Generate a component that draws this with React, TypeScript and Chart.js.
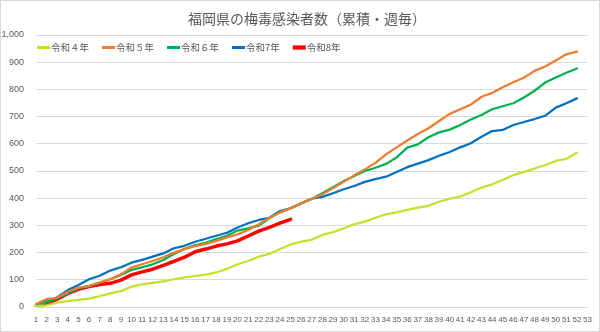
import React, { useEffect, useRef } from "react";
import { Chart, registerables } from "chart.js";

Chart.register(...registerables);

// Week numbers 1..53
const weeks: string[] = Array.from({ length: 53 }, (_, i) => String(i + 1));

// Cumulative syphilis cases in Fukuoka, by week
const r4: number[] = [3, 6, 16, 22, 26, 31, 40, 50, 58, 75, 83, 89, 94, 102, 109, 114, 119, 127, 140, 157, 169, 185, 195, 213, 230, 240, 247, 265, 275, 289, 304, 314, 328, 341, 348, 357, 365, 372, 387, 398, 406, 422, 439, 451, 467, 485, 497, 509, 522, 537, 545, 567];
const r5: number[] = [11, 29, 34, 56, 71, 77, 91, 102, 120, 145, 157, 169, 183, 200, 213, 224, 232, 243, 256, 267, 283, 304, 328, 348, 363, 381, 398, 414, 437, 460, 484, 506, 530, 561, 587, 612, 636, 657, 684, 710, 727, 744, 773, 787, 808, 826, 843, 868, 884, 906, 929, 939];
const r6: number[] = [4, 17, 32, 50, 69, 77, 89, 102, 118, 136, 146, 157, 173, 195, 213, 228, 236, 250, 262, 281, 289, 299, 326, 348, 363, 381, 398, 418, 440, 462, 482, 500, 512, 526, 550, 586, 598, 624, 642, 652, 669, 689, 706, 727, 738, 749, 770, 795, 825, 844, 861, 877];
const r7: number[] = [4, 20, 36, 62, 81, 102, 115, 134, 146, 163, 173, 185, 197, 216, 225, 240, 251, 262, 273, 292, 308, 320, 328, 353, 363, 381, 398, 405, 418, 433, 445, 460, 470, 479, 496, 514, 527, 540, 556, 570, 587, 602, 626, 647, 651, 669, 680, 691, 703, 733, 749, 767];
const r8: number[] = [1, 13, 29, 50, 65, 75, 83, 87, 99, 118, 129, 139, 153, 168, 183, 203, 213, 224, 232, 243, 261, 279, 293, 308, 322];

const chartTitle = "福岡県の梅毒感染者数（累積・週毎）";
const seriesLabels: string[] = ["令和４年", "令和５年", "令和６年", "令和7年", "令和8年"];
const seriesColors: string[] = ["#c8e02a", "#ed7d31", "#00b050", "#0070c0", "#ff0000"];
const seriesWidths: number[] = [2.25, 2.25, 2.25, 2.25, 3.5];

const FONT = '"Noto Sans CJK JP", "Noto Sans", sans-serif';
const NUM_FONT = '"Liberation Sans", sans-serif';
const TEXT = "#595959";

// Title and legend; the legend sits inside the plot area, one line sample + label per series
const overlay = {
  id: "overlay",
  afterDraw(chart: any) {
    const ctx = chart.ctx;
    ctx.save();
    ctx.fillStyle = TEXT;
    ctx.font = `14px ${FONT}`;
    ctx.textAlign = "center";
    ctx.textBaseline = "middle";
    ctx.fillText(chartTitle, 307, 19);

    ctx.font = `9.5px ${FONT}`;
    ctx.textAlign = "left";
    let x = 37;
    const y = 47.5;
    chart.data.datasets.forEach((ds: any) => {
      ctx.strokeStyle = ds.borderColor;
      ctx.lineWidth = ds.borderWidth + 0.75;
      ctx.beginPath();
      ctx.moveTo(x, y);
      ctx.lineTo(x + 13, y);
      ctx.stroke();
      ctx.fillStyle = TEXT;
      ctx.fillText(ds.label, x + 14, y);
      x += 14 + ctx.measureText(ds.label).width + 13;
    });
    ctx.restore();
  },
};

// White background and light frame around the whole chart
const frame = {
  id: "frame",
  beforeDraw(chart: any) {
    const ctx = chart.ctx;
    ctx.save();
    ctx.fillStyle = "#ffffff";
    ctx.fillRect(0, 0, chart.width, chart.height);
    ctx.strokeStyle = "#d9d9d9";
    ctx.lineWidth = 1;
    ctx.strokeRect(0.5, 0.5, chart.width - 1, chart.height - 1);
    ctx.restore();
  },
};

export default function App() {
  const ref = useRef<HTMLCanvasElement | null>(null);

  useEffect(() => {
    if (!ref.current) return;
    const all = [r4, r5, r6, r7, r8];
    const chart = new Chart(ref.current, {
      type: "line",
      data: {
        labels: weeks,
        datasets: all.map((d, i) => ({
          label: seriesLabels[i],
          data: d,
          borderColor: seriesColors[i],
          backgroundColor: seriesColors[i],
          borderWidth: seriesWidths[i],
          pointRadius: 0,
          tension: 0,
          fill: false,
          borderJoinStyle: "round" as const,
          borderCapStyle: "round" as const,
        })),
      },
      options: {
        responsive: false,
        animation: false,
        layout: { padding: { left: 0, right: 6, top: 35, bottom: 0 } },
        plugins: {
          legend: { display: false },
          tooltip: { enabled: false },
          title: { display: false },
        },
        scales: {
          x: {
            grid: { display: false, drawTicks: false },
            border: { display: false },
            ticks: {
              color: TEXT,
              font: { family: NUM_FONT, size: 8 },
              autoSkip: false,
              maxRotation: 0,
              minRotation: 0,
              padding: 8,
            },
            afterFit: (s: any) => {
              s.height = 25;
            },
          },
          y: {
            min: 0,
            max: 1000,
            grid: { color: "#d9d9d9", drawTicks: false, lineWidth: 1 },
            border: { display: false },
            ticks: {
              stepSize: 100,
              color: TEXT,
              font: { family: NUM_FONT, size: 9 },
              padding: 12,
              callback: (v: any) => Number(v).toLocaleString("en-US"),
            },
            afterFit: (s: any) => {
              s.width = 36;
            },
          },
        },
      },
      plugins: [frame, overlay],
    });
    return () => chart.destroy();
  }, []);

  return (
    <div style={{ position: "fixed", left: 0, top: 0, width: 600, height: 332, background: "#fff" }}>
      <canvas ref={ref} width={600} height={332} style={{ display: "block" }} />
    </div>
  );
}
